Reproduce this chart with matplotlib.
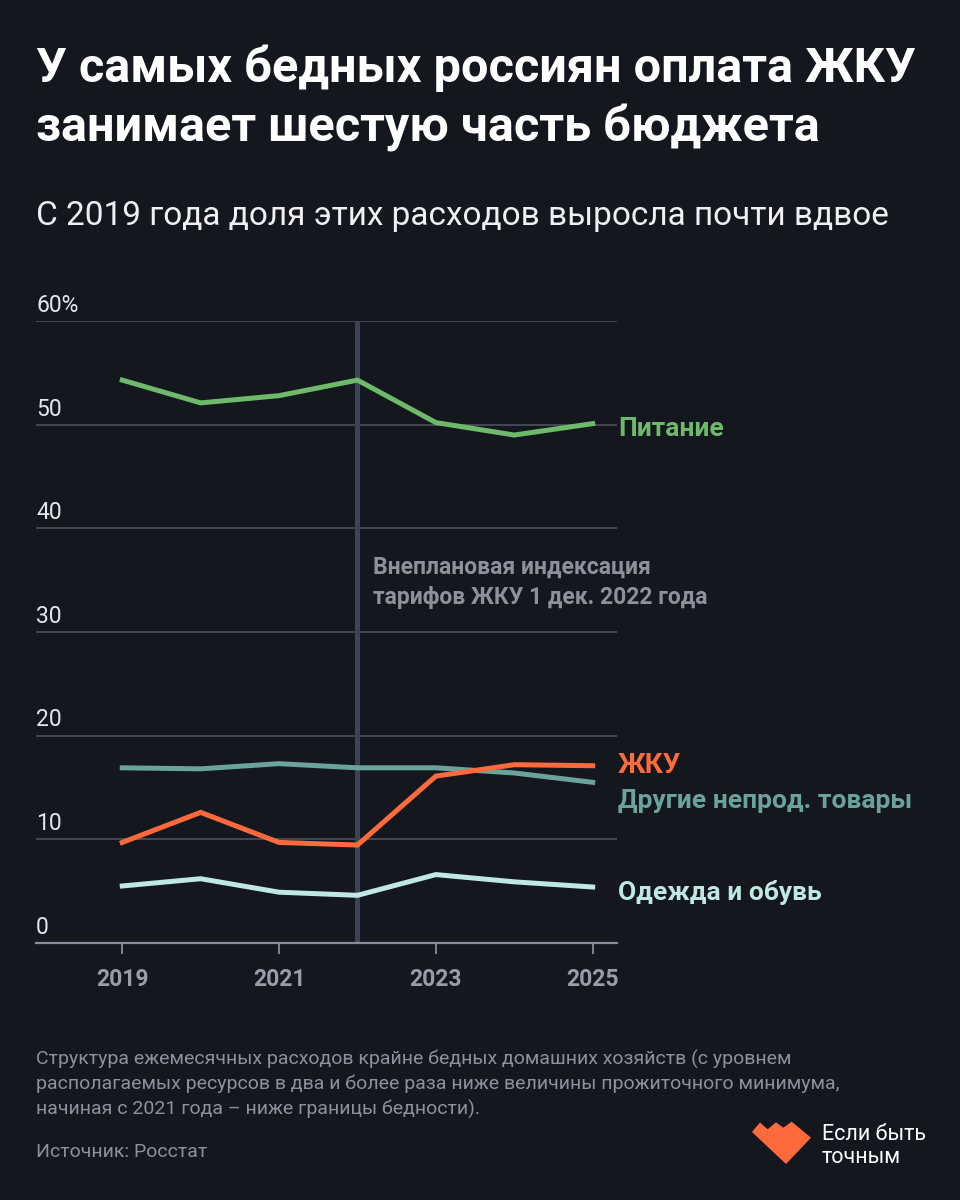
import matplotlib
matplotlib.use("Agg")
import matplotlib.pyplot as plt
from matplotlib.patches import Polygon

# data (share of monthly spending, %)
years = [2019, 2020, 2021, 2022, 2023, 2024, 2025]
food = [54.3, 52.1, 52.8, 54.3, 50.2, 49.0, 50.1]
other_goods = [16.9, 16.8, 17.3, 16.9, 16.9, 16.4, 15.5]
housing = [9.7, 12.6, 9.7, 9.45, 16.1, 17.2, 17.1]
clothes = [5.5, 6.2, 4.9, 4.6, 6.6, 5.9, 5.4]

y_ticks = [0, 10, 20, 30, 40, 50, 60]
y_labels = ["0", "10", "20", "30", "40", "50", "60%"]
x_ticks = [2019, 2021, 2023, 2025]

BG = "#15171f"
GREEN = "#6dbb6a"
ORANGE = "#ff6a3d"
TEAL = "#6aa39c"
CYAN = "#bfe8e5"
GRID = "#494c59"
GREY = "#8e919c"

plt.rcParams["font.family"] = ["Roboto", "DejaVu Sans"]

fig = plt.figure(figsize=(9.6, 12), dpi=100, facecolor=BG)
ax = fig.add_axes([36 / 960, 1 - 943 / 1200, (617 - 36) / 960, (943 - 321) / 1200])
ax.set_facecolor(BG)
ax.set_xlim(2017.9, 2025.31)
ax.set_ylim(0, 60)

for s in ["top", "right", "left"]:
    ax.spines[s].set_visible(False)
ax.spines["bottom"].set_color("#8a8d99")
ax.spines["bottom"].set_linewidth(1.6)

for v in y_ticks[1:]:
    ax.axhline(v, color=GRID, lw=1.3, zorder=1)
for v, lab in zip(y_ticks, y_labels):
    ax.annotate(lab, xy=(0, v), xycoords=("axes fraction", "data"),
                xytext=(0, 3), textcoords="offset points",
                ha="left", va="bottom", color="#e6e6ea", fontsize=16.5)

ax.set_yticks([])
ax.set_xticks(x_ticks)
ax.set_xticklabels([str(x) for x in x_ticks], color="#9a9ca8",
                   fontsize=16.5, fontweight="bold")
ax.tick_params(axis="x", length=8, width=1.3, color="#8a8d99", pad=10)

# unscheduled tariff indexation
ax.axvline(2022, color="#3b4356", lw=3.6, zorder=2)
ax.text(2022.2, 37.4, "Внеплановая индексация\nтарифов ЖКУ 1 дек. 2022 года",
        color=GREY, fontsize=16.5, fontweight="bold", ha="left", va="top",
        linespacing=1.45)

lw = 3.6
ax.plot(years, food, color=GREEN, lw=lw, zorder=4, solid_joinstyle="miter")
ax.plot(years, other_goods, color=TEAL, lw=lw, zorder=4, solid_joinstyle="miter")
ax.plot(years, housing, color=ORANGE, lw=lw, zorder=5, solid_joinstyle="miter")
ax.plot(years, clothes, color=CYAN, lw=lw, zorder=4, solid_joinstyle="miter")

lab_kw = dict(fontsize=19, fontweight="bold", ha="left", va="center",
              clip_on=False)
ax.text(2025.32, 49.6, "Питание", color=GREEN, **lab_kw)
ax.text(2025.32, 17.1, "ЖКУ", color=ORANGE, **{**lab_kw, "fontsize": 20})
ax.text(2025.32, 13.7, "Другие непрод. товары", color=TEAL, **lab_kw)
ax.text(2025.32, 4.9, "Одежда и обувь", color=CYAN, **lab_kw)

# titles
fig.text(36 / 960, 1 - 68 / 1200, "У самых бедных россиян оплата ЖКУ",
         color="white", fontsize=35, fontweight="bold", va="center")
fig.text(36 / 960, 1 - 128 / 1200, "занимает шестую часть бюджета",
         color="white", fontsize=35, fontweight="bold", va="center")
fig.text(36 / 960, 1 - 216 / 1200,
         "С 2019 года доля этих расходов выросла почти вдвое",
         color="#f0f0f2", fontsize=24, va="center")

# footnote
fig.text(36 / 960, 1 - 1050 / 1200,
         "Структура ежемесячных расходов крайне бедных домашних хозяйств (с уровнем\n"
         "располагаемых ресурсов в два и более раза ниже величины прожиточного минимума,\n"
         "начиная с 2021 года – ниже границы бедности).",
         color=GREY, fontsize=14, va="top", linespacing=1.4)
fig.text(36 / 960, 1 - 1152 / 1200, "Источник: Росстат",
         color=GREY, fontsize=14, va="center")

# logo
heart = [(752, 1132), (760, 1122.5), (767.7, 1129.3), (776, 1122.3),
         (783.3, 1127.7), (791.7, 1121.7), (811, 1137.7), (786, 1164)]
fig.patches.append(Polygon([(x / 960, 1 - y / 1200) for x, y in heart],
                           closed=True, transform=fig.transFigure,
                           facecolor=ORANGE, edgecolor="none"))
fig.text(822 / 960, 1 - 1146 / 1200, "Если быть\nточным", color="white",
         fontsize=15.5, va="center", linespacing=1.1)

fig.savefig("out.png", dpi=100, facecolor=BG)
